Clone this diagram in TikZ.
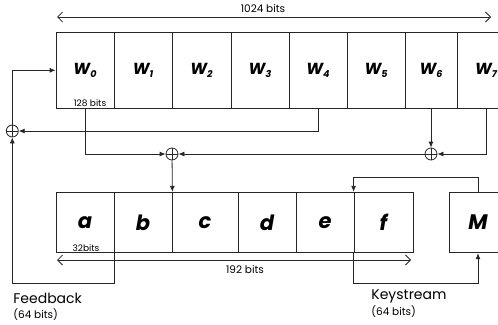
\documentclass[tikz,border=0pt]{standalone}
\usepackage{fontspec}
\setmainfont{Poppins}
\usetikzlibrary{arrows.meta, calc}
\tikzset{
    cell/.style={draw, minimum width=58pt, inner sep=0pt, font=\bfseries\itshape},
    wcell/.style={cell, minimum height=76pt, font=\fontsize{16}{18}\selectfont\bfseries\itshape},
    lcell/.style={cell, minimum height=60.5pt, font=\fontsize{21}{24}\selectfont\bfseries\itshape},
    xorj/.style={draw, circle, inner sep=0pt, minimum size=12pt,
        path picture={\draw (path picture bounding box.north) -- (path picture bounding box.south)
            (path picture bounding box.west) -- (path picture bounding box.east);}},
    dim/.style={{Straight Barb[length=5pt,width=10pt]}-{Straight Barb[length=5pt,width=10pt]}},
    tag/.style={inner sep=0pt, font=\fontsize{9}{10}\selectfont},
    captxt/.style={inner sep=0pt, anchor=west, align=left},
    ks/.style={>={Latex[length=6pt,width=5pt]}, line width=0.8pt, draw=black!85}
}
\newcommand{\wsub}[1]{W\raisebox{-0.35ex}{\fontsize{9.5}{10}\selectfont #1}}

\begin{document}
\begin{tikzpicture}[ks, x=1pt, y=-1pt]
        \useasboundingbox (0,0) rectangle (498,324);
        \clip (0,0) rectangle (498,324);

        % 1024-bit register
        \node[wcell] (w0) at (85,70.3) {\wsub{0}};
        \node[wcell] (w1) at (143,70.3) {\wsub{1}};
        \node[wcell, minimum width=59pt] (w2) at (201.5,70.3) {\wsub{2}};
        \node[wcell] (w3) at (260,70.3) {\wsub{3}};
        \node[wcell] (w4) at (318,70.3) {\wsub{4}};
        \node[wcell] (w5) at (376,70.3) {\wsub{5}};
        \node[wcell, minimum width=52pt] (w6) at (431,70.3) {\wsub{6}};
        \node[wcell] (w7) at (486,70.3) {\wsub{7}};
        \node[tag] (t128) at (90,103) {128 bits};

        \coordinate (d1l) at (57,17);
        \coordinate (d1r) at (491,17);
        \draw[dim] (d1l) -- (d1r);
        \node[inner sep=0pt, font=\fontsize{10.5}{12}\selectfont] (t1024) at (263,9) {1024 bits};

        % 192-bit register
        \node[lcell] (a) at (85,222.5) {a};
        \node[lcell] (b) at (143,222.5) {b};
        \node[lcell, minimum width=66pt] (c) at (205,222.5) {c};
        \node[lcell] (d) at (267,222.5) {d};
        \node[lcell] (e) at (325,222.5) {e};
        \node[lcell, minimum width=59pt] (f) at (383.5,222.5) {f};
        \node[lcell] (m) at (478,222.5) {M};
        \node[tag] (t32) at (86,248) {32bits};

        \coordinate (d2l) at (57,260);
        \coordinate (d2r) at (411,260);
        \draw[dim] (d2l) -- (d2r);
        \node[inner sep=0pt, font=\fontsize{10.5}{12}\selectfont] (t192) at (245,269.5) {192 bits};

        % xor junctions
        \node[xorj] (x1) at (12.3,131) {};
        \node[xorj] (x2) at (172,154) {};
        \node[xorj] (x3) at (431,154) {};
        \coordinate (fb) at (12.3,283);
        \coordinate (ksb) at (478,283);
        \coordinate (kst) at (478,177);

        \draw[->] (w4.south) |- (x1);
        \draw[->] (w0.south) |- (x2);
        \draw[->] (w6.south) -- (x3);
        \draw[->] (w7.south) |- (x3);
        \draw[->] (x3) -- (x2);
        \draw[->] (x2) -- (b.north east);
        \draw[->] (x1) |- (w0.west);

        \draw[->] (a.south east) |- (fb) -- (x1);
        \draw[->] (m.north) -- (kst) -| (f.north west);
        \draw[->] (f.south west) |- (ksb) -- (m.south);

        \node[captxt, font=\fontsize{14}{16}\selectfont] (fbl) at (13,298) {Feedback};
        \node[captxt, font=\fontsize{10.5}{12}\selectfont] (fbs) at (13,315) {(64 bits)};
        \node[captxt, font=\fontsize{14}{16}\selectfont] (ksl) at (371,296) {Keystream};
        \node[captxt, font=\fontsize{10.5}{12}\selectfont] (kss) at (371,312) {(64 bits)};
    \end{tikzpicture}
\end{document}
